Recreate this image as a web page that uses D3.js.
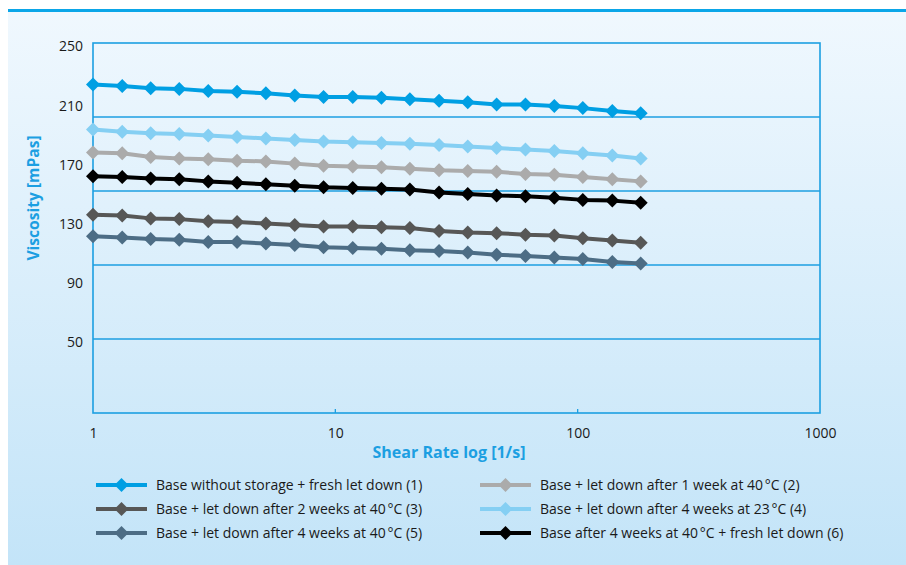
<!DOCTYPE html>
<html>
<head>
<meta charset="utf-8">
<script src="https://cdn.jsdelivr.net/npm/d3@7"></script>
<style>
  html, body { margin: 0; padding: 0; background: #ffffff; }
  svg { display: block; }
  text { font-family: "Open Sans", "Noto Sans", sans-serif; }
</style>
</head>
<body>
<script>
// ---- data ----
const shearRates = [1, 1.32, 1.73, 2.27, 2.99, 3.93, 5.17, 6.8, 8.94, 11.8, 15.5, 20.3, 26.8, 35.2, 46.3, 60.9, 80.1, 105, 139, 182];
const series1 = [222, 221, 219.5, 219, 217.5, 217, 216, 214.5, 213.5, 213.5, 213, 212, 211, 210, 208.5, 208.5, 207.5, 206, 204, 202.5];
const series2 = [176, 175.5, 173, 172, 171.5, 170.5, 170, 168.5, 167, 166.5, 166, 165, 164, 163.5, 163, 161.5, 161, 159.5, 158, 156.5];
const series3 = [134, 133.5, 131.5, 131, 129.5, 129, 128, 127, 126, 126, 125.5, 125, 123, 122, 121.5, 120.5, 120, 118, 116.5, 115];
const series4 = [191.5, 190, 189, 188.5, 187.5, 186.5, 185.5, 184.5, 183.5, 183, 182.5, 182, 181, 180, 179, 178, 177, 175.5, 174, 172];
const series5 = [119.5, 118.5, 117.5, 117, 115.5, 115.5, 114.5, 113.5, 112, 111.5, 111, 110, 109.5, 108.5, 107, 106, 105, 104, 102, 101];
const series6 = [160, 159.5, 158.5, 158, 156.5, 155.5, 154.5, 153.5, 152.5, 152, 151.5, 151, 149, 148, 147, 146.5, 145.5, 144, 143.5, 142];
const seriesNames = [
  "Base without storage + fresh let down (1)",
  "Base + let down after 1 week at 40\u202F°C (2)",
  "Base + let down after 2 weeks at 40\u202F°C (3)",
  "Base + let down after 4 weeks at 23\u202F°C (4)",
  "Base + let down after 4 weeks at 40\u202F°C (5)",
  "Base after 4 weeks at 40\u202F°C + fresh let down (6)"
];
const yTickLabels = [50, 90, 130, 170, 210, 250];
const yGridValues = [0, 50, 100, 150, 200, 250];
const xTickLabels = [1, 10, 100, 1000];
const xMinorTicks = [10, 100];
const xTitle = "Shear Rate log [1/s]";
const yTitle = "Viscosity [mPas]";

// ---- styles ----
const colors = ["#009fe3", "#ababab", "#575756", "#85cff3", "#4d6d85", "#000000"];
const allSeries = [series1, series2, series3, series4, series5, series6];
const blue = "#1c9fe2";

const W = 906, H = 565;
const svg = d3.select("body").append("svg").attr("width", W).attr("height", H);

const defs = svg.append("defs");
const grad = defs.append("linearGradient").attr("id", "bg").attr("x1", 0).attr("y1", 0).attr("x2", 0).attr("y2", 1);
grad.append("stop").attr("offset", "0%").attr("stop-color", "#f0f8fe");
grad.append("stop").attr("offset", "100%").attr("stop-color", "#c3e4f8");

svg.append("rect").attr("x", 8).attr("y", 10).attr("width", W - 8).attr("height", H - 10).attr("fill", "url(#bg)");
svg.append("line").attr("x1", 8).attr("x2", W).attr("y1", 10.5).attr("y2", 10.5)
  .attr("stroke", "#0ba6e8").attr("stroke-width", 3);

const plot = { left: 93, right: 820, top: 43, bottom: 413 };
const x = d3.scaleLog().domain([1, 1000]).range([plot.left, plot.right]);
const y = d3.scaleLinear().domain([0, 250]).range([plot.bottom, plot.top]);

// gridlines
svg.append("g").selectAll("line").data(yGridValues.filter(v => v > 0 && v < 250)).join("line")
  .attr("x1", plot.left).attr("x2", plot.right)
  .attr("y1", d => y(d)).attr("y2", d => y(d))
  .attr("stroke", blue).attr("stroke-width", 1.3);

// frame
svg.append("rect").attr("x", plot.left).attr("y", plot.top)
  .attr("width", plot.right - plot.left).attr("height", plot.bottom - plot.top)
  .attr("fill", "none").attr("stroke", blue).attr("stroke-width", 1.6);

// x axis minor ticks
svg.append("g").selectAll("line").data(xMinorTicks).join("line")
  .attr("x1", d => x(d)).attr("x2", d => x(d))
  .attr("y1", plot.bottom).attr("y2", plot.bottom - 4)
  .attr("stroke", blue).attr("stroke-width", 1.3);

// x axis labels
const xAxis = d3.axisBottom(x).tickValues(xTickLabels).tickFormat(d3.format("d")).tickSize(0).tickPadding(15);
const gx = svg.append("g").attr("transform", `translate(0,${plot.bottom})`).call(xAxis);
gx.select(".domain").remove();
gx.selectAll("text").attr("font-size", 14).attr("fill", "#1a1a1a").style("font-family", '"Open Sans", sans-serif');

// y axis labels
const yAxis = d3.axisLeft(y).tickValues(yTickLabels).tickFormat(d3.format("d")).tickSize(0).tickPadding(10);
const gy = svg.append("g").attr("transform", `translate(${plot.left},0)`).call(yAxis);
gy.select(".domain").remove();
gy.selectAll(".tick").attr("transform", d => `translate(0,${y(d) + 4})`);
gy.selectAll("text").attr("font-size", 14).attr("fill", "#1a1a1a").style("font-family", '"Open Sans", sans-serif');

// titles
svg.append("text").attr("x", 449).attr("y", 458).attr("text-anchor", "middle")
  .attr("font-size", 16).attr("font-weight", "bold").attr("fill", blue).text(xTitle);
svg.append("text").attr("transform", "translate(39,198) rotate(-90)").attr("text-anchor", "middle")
  .attr("font-size", 15.6).attr("font-weight", "bold").attr("fill", blue).text(yTitle);

// series
const diamond = "M0,-7L7,0L0,7L-7,0Z";
const line = d3.line().x((d, i) => x(shearRates[i])).y(d => y(d));
allSeries.forEach((vals, si) => {
  const g = svg.append("g");
  g.append("path").datum(vals).attr("d", line).attr("fill", "none")
    .attr("stroke", colors[si]).attr("stroke-width", 4).attr("stroke-linejoin", "round");
  g.selectAll("path.m").data(vals).join("path").attr("class", "m")
    .attr("d", diamond)
    .attr("transform", (d, i) => `translate(${x(shearRates[i])},${y(d)})`)
    .attr("fill", colors[si]);
});

// legend
const legendOrder = [0, 2, 4, 1, 3, 5];
legendOrder.forEach((si, k) => {
  const col = Math.floor(k / 3), row = k % 3;
  const lx = col === 0 ? 96 : 480;
  const ly = 485 + row * 24;
  const g = svg.append("g").attr("transform", `translate(${lx},${ly})`);
  g.append("line").attr("x1", 0).attr("x2", 51).attr("y1", 0).attr("y2", 0)
    .attr("stroke", colors[si]).attr("stroke-width", 4);
  g.append("path").attr("d", diamond).attr("transform", "translate(25.5,0)").attr("fill", colors[si]);
  g.append("text").attr("x", 60).attr("y", 0).attr("dy", "0.35em")
    .attr("font-size", 14).attr("fill", "#1a1a1a").text(seriesNames[si]);
});
</script>
</body>
</html>
